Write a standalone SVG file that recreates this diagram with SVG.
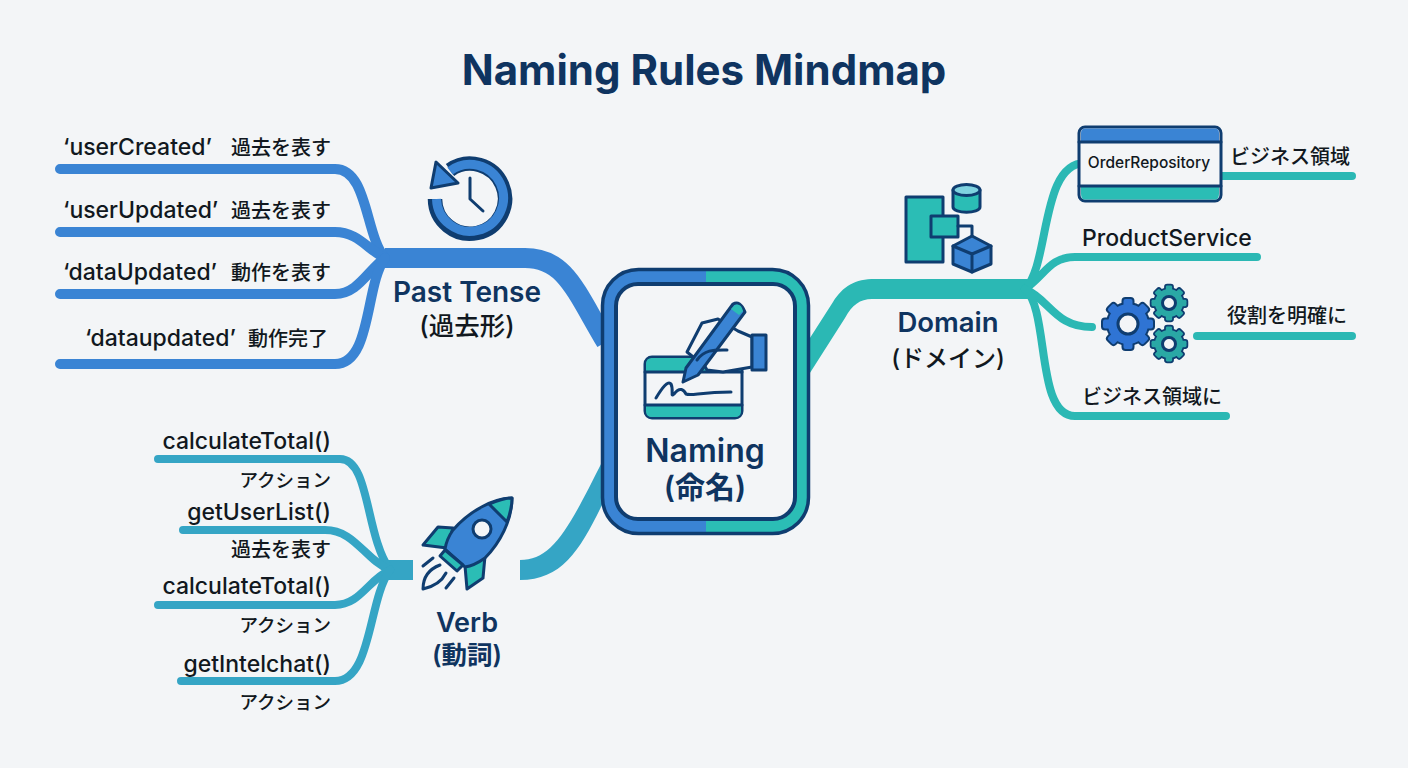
<svg xmlns="http://www.w3.org/2000/svg" xmlns:xlink="http://www.w3.org/1999/xlink" width="1408" height="768" viewBox="0 0 1408 768">
<style>
text{font-family:Inter,"Noto Sans CJK JP",sans-serif;fill:#111820;font-weight:500}
.t{fill:#0f3460;font-weight:600}
.m{text-anchor:middle}
.e{text-anchor:end}
.l{font-size:23px}
.v{font-size:23px}
.j{font-size:20px}
.a{font-size:18.500px}
.b{fill:none;stroke:#3a84d4;stroke-linecap:round;stroke-width:10}
.g{fill:none;stroke:#35a5c5;stroke-linecap:round;stroke-width:8}
.d{fill:none;stroke:#2bb8b4;stroke-linecap:round;stroke-width:8}
.o{stroke:#0f3d70;stroke-width:3;stroke-linejoin:round}
.fb{fill:#3a84d4}.ft{fill:#2bbdb5}.fw{fill:#f3f5f7}
.n{fill:none;stroke:#0f3d70;stroke-width:3;stroke-linecap:round;stroke-linejoin:round}
</style>
<defs>
<g id="gear"><circle r="20"/><rect x="-4.500" y="-25" width="9" height="50" rx="2"/><rect x="-4.500" y="-25" width="9" height="50" rx="2" transform="rotate(45)"/><rect x="-4.500" y="-25" width="9" height="50" rx="2" transform="rotate(90)"/><rect x="-4.500" y="-25" width="9" height="50" rx="2" transform="rotate(135)"/></g>
</defs>
<rect width="1408" height="768" fill="#f3f5f7"/>
<text id="title" x="704" y="85" class="t m" style="font-weight:700" font-size="42">Naming Rules Mindmap</text>
<g id="connectors">
<path d="M385,258H525C565,258 575,290 606,342" fill="none" stroke="#3a84d4" stroke-width="20"/>
<path class="b" d="M60,169H335C368,169 365,235 385,258"/>
<path class="b" d="M60,232H335C358,232 368,250 385,258"/>
<path class="b" d="M60,294H335C358,294 368,270 385,258"/>
<path class="b" d="M60,364H335C372,364 365,285 385,258"/>
<path d="M520,560C552,560 568,530 602,462L602,505C580,550 562,580 520,580Z" fill="#35a5c5"/>
<path d="M385,560H413V580H385Z" fill="#35a5c5"/>
<path class="g" d="M158,459H340C370,459 365,535 390,570"/>
<path class="g" d="M183,530H325C355,530 365,560 390,570"/>
<path class="g" d="M158,605H335C360,605 368,580 390,570"/>
<path class="g" d="M181,681H335C372,681 368,600 390,570"/>
<path d="M808,341L833,302C843,286 855,279 875,279H1030V299H872C860,299 852,305 845,318L808,376Z" fill="#2bb8b4"/>
<path class="d" d="M1025,289C1050,265 1040,163 1085,163"/>
<path class="d" d="M1025,289C1045,275 1050,257 1075,257H1257"/>
<path class="d" d="M1025,289C1050,300 1055,327 1092,327"/>
<path class="d" d="M1025,289C1050,310 1035,416 1075,416H1226"/>
<path class="d" d="M1215,176H1352"/>
<path class="d" d="M1197,336H1352"/>
</g>
<g id="naming">
<path class="fb" d="M706,269H638A36,36 0 0 0 602,305V498A36,36 0 0 0 638,534H706Z"/>
<path class="ft" d="M706,269H773A36,36 0 0 1 809,305V498A36,36 0 0 1 773,534H706Z"/>
<rect x="602.5" y="269.500" width="206" height="264" rx="36" fill="none" stroke="#0f3d70" stroke-width="3.500"/>
<rect x="616" y="284" width="179" height="235" rx="22" class="fw" stroke="#0f3d70" stroke-width="4"/>
<rect x="645" y="357" width="97" height="61" rx="7" class="fw o"/>
<path class="ft" d="M646,372V364Q646,358 652,358H741V372Z"/>
<path class="ft" d="M646,405H741V411Q741,417 735,417H652Q646,417 646,411Z"/>
<path class="n" d="M645,372H742M645,405H742"/>
<path class="n" d="M656,398C662,388 668,380 671,384C674,390 670,398 674,394C680,386 684,390 686,394C692,396 700,392 731,392"/>
<path class="fw o" d="M752,337L738,331L718,319L702,323L687,352L697,360L703,363L707,370L723,372L752,367Z"/>
<rect x="752" y="335" width="14" height="35" class="fb o"/>
<path class="fb o" d="M733,304Q740,300 745,312L698,375L683,382L686,368Z"/>
<path class="ft" d="M735,305Q741,303 743,311L739,315L731,309Z"/>
<path class="n" d="M697,360C705,349 715,350 727,350"/>
<text x="705" y="462" class="t m" font-size="32">Naming</text>
<text x="705" y="498" class="t m" font-size="30">(命名)</text>
</g>
<g id="pastTense">
<path d="M435,199A35,35 0 1 0 450,170" fill="none" stroke="#0f3d70" stroke-width="14.500"/>
<path d="M436.500,199A33.500,33.500 0 1 0 450,171" fill="none" stroke="#3a84d4" stroke-width="9"/>
<path class="fb o" d="M436,162L431,188L458,183Z"/>
<path class="n" d="M470,178V199L483,211"/>
<text x="467" y="302" class="t m" font-size="28">Past Tense</text>
<text x="467" y="335" class="m" font-size="25.500">(過去形)</text>
</g>
<g id="pastItems">
<text x="63" y="155" class="l">‘userCreated’</text><text x="231" y="155" class="j">過去を表す</text>
<text x="63" y="218" class="l">‘userUpdated’</text><text x="231" y="218" class="j">過去を表す</text>
<text x="63" y="280" class="l">‘dataUpdated’</text><text x="231" y="280" class="j">動作を表す</text>
<text x="85" y="346" class="l">‘dataupdated’</text><text x="248" y="346" class="j">動作完了</text>
</g>
<g id="verb">
<path class="ft o" d="M453,528L438,527L423,545L447,548Z"/>
<path class="ft o" d="M485,556L465,566L467,589L483,578Z"/>
<path class="fb o" d="M512,498C495,498 470,510 453,530C448,537 446,543 445,549L465,567C472,566 478,563 485,558C500,543 512,520 512,498Z"/>
<path class="ft o" d="M489,504C497,501 505,498 512,498C512,506 510,514 507,522Z"/>
<circle cx="482" cy="529" r="9" class="fw o"/>
<path class="ft o" d="M445,550L440,556L457,571L463,565Z"/>
<path class="n" d="M423,589C423,575 432,568 440,565M423,589C432,587 441,583 446,573M423,566L433,558M446,588L454,578"/>
<text x="467" y="632" class="t m" font-size="27">Verb</text>
<text x="467" y="664" class="t m" font-size="25.500">(動詞)</text>
</g>
<g id="verbItems">
<text x="331" y="449" class="e v">calculateTotal()</text>
<text x="331" y="487" class="e a">アクション</text>
<text x="331" y="520" class="e v">getUserList()</text>
<text x="331" y="557" class="e j">過去を表す</text>
<text x="331" y="594" class="e v">calculateTotal()</text>
<text x="331" y="632" class="e a">アクション</text>
<text x="331" y="672" class="e v">getIntelchat()</text>
<text x="331" y="709" class="e a">アクション</text>
</g>
<g id="domain">
<rect x="906" y="197" width="37" height="65" class="ft o"/>
<rect x="931" y="216" width="27" height="21" class="ft o"/>
<path class="n" d="M958,226H972V236"/>
<path class="ft o" d="M953,190V207C953,214 980,214 980,207V190Z"/>
<ellipse cx="966.500" cy="190" rx="13.500" ry="5.500" fill="#7fd3e0" class="o"/>
<path class="fb o" d="M972,236L991,246V264L972,272L953,264V246Z"/>
<path class="n" d="M953,246L972,254L991,246M972,254V272"/>
<text x="948" y="332" class="t m" font-size="27.500">Domain</text>
<text x="948" y="367" class="m" font-size="24">(ドメイン)</text>
</g>
<g id="orderRepository">
<rect x="1079" y="127" width="142" height="74" rx="6" class="fw o" stroke-width="3.500"/>
<path class="fb" d="M1081,141V133Q1081,128.500 1085,128.500H1215Q1219,128.500 1219,133V141Z"/>
<path class="ft" d="M1081,187H1219V194Q1219,199.500 1215,199.500H1085Q1081,199.500 1081,194Z"/>
<path class="n" d="M1079,142H1221M1079,186H1221"/>
<text x="1149" y="168" class="m" font-size="15.500">OrderRepository</text>
</g>
<g id="gears">
<g transform="translate(1128,324)" stroke="#0f3d70" fill="#0f3d70" stroke-width="4"><use href="#gear"/></g>
<g transform="translate(1128,324)" fill="#2f74d4"><use href="#gear"/></g>
<circle cx="1128" cy="324" r="10" class="fw o"/>
<g transform="translate(1169,303) scale(.7)" stroke="#0f3d70" fill="#0f3d70" stroke-width="5"><use href="#gear"/></g>
<g transform="translate(1169,303) scale(.7)" fill="#2aa8a5"><use href="#gear"/></g>
<circle cx="1169" cy="303" r="6.500" class="fw o"/>
<g transform="translate(1169,344) scale(.7)" stroke="#0f3d70" fill="#0f3d70" stroke-width="5"><use href="#gear"/></g>
<g transform="translate(1169,344) scale(.7)" fill="#2aa8a5"><use href="#gear"/></g>
<circle cx="1169" cy="344" r="6.500" class="fw o"/>
</g>
<g id="domainItems">
<text x="1230" y="164" class="j">ビジネス領域</text>
<text x="1082" y="246" class="l">ProductService</text>
<text x="1227" y="323" class="j">役割を明確に</text>
<text x="1082" y="404" class="j">ビジネス領域に</text>
</g>
</svg>
